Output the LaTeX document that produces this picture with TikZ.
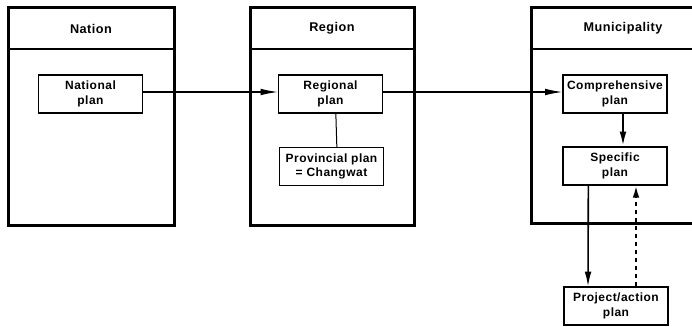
\documentclass[tikz,border=0pt]{standalone}
\usepackage{fontspec}
\setmainfont[LetterSpace=4]{Liberation Sans}
\usetikzlibrary{arrows.meta}

\tikzset{every picture/.style={line width=0.75pt}}
\tikzset{
  frame/.style={line width=2.25pt},
  headline/.style={line width=1.8pt},
  planbox/.style={draw, line width=0.9pt, minimum width=78pt, minimum height=28.5pt,
    inner sep=1pt, align=center, font=\fontsize{9}{11}\selectfont\bfseries},
  head/.style={font=\fontsize{9.5}{11}\selectfont\bfseries},
  flow/.style={-{Latex[length=13pt,width=5pt]}, line width=0.9pt},
}

\begin{document}
\begin{tikzpicture}[x=0.75pt,y=0.75pt,yscale=-1,xscale=1]
\useasboundingbox (0,0) rectangle (692,327);

%Frames
\draw [frame] (8,8) rectangle (174,226);
\draw [headline] (8,49) -- (174,49);
\draw [frame] (250,8) rectangle (414,226);
\draw [headline] (250,49) -- (414,49);
\draw [frame] (692,8) -- (531,8) -- (531,224) -- (692,224);
\draw [headline] (531,49) -- (692,49);

%Headers
\node [head] (hnat) at (91,28.5) {Nation};
\node [head] (hreg) at (332,28.5) {Region};
\node [head] (hmun) at (623,28.5) {Municipality};

%Plans
\node [planbox] (nat) at (90.5,94) {National\\plan};
\node [planbox] (reg) at (330.5,94) {Regional\\plan};
\node [planbox] (prov) at (331.5,166.5) {Provincial plan\\= Changwat};
\node [planbox] (comp) at (615,94) {Comprehensive\\plan};
\node [planbox] (spec) at (615,166) {Specific\\plan};
\node [planbox] (proj) at (616,306) {Project/action\\plan};

%Links
\draw [flow] ([yshift=-1.5]nat.east) -- ([yshift=-1.5]reg.west);
\draw [flow] ([yshift=-1.5]reg.east) -- ([yshift=-1.5]comp.west);
\draw ([xshift=4]reg.south) -- ([xshift=4]prov.north);
\draw [flow, line width=1.6pt, -{Latex[length=11pt,width=5pt]}] ([xshift=6]comp.south) -- ([xshift=6]spec.north);
\draw [flow, line width=1.2pt, -{Latex[length=11pt,width=5pt]}] ([xshift=-20]spec.south) -- ([xshift=-21]proj.north);
\draw [flow, line width=1.5pt, dashed, -{Latex[length=9pt,width=5pt]}] ([xshift=15]proj.north) -- ([xshift=15.75]spec.south);

\end{tikzpicture}
\end{document}
